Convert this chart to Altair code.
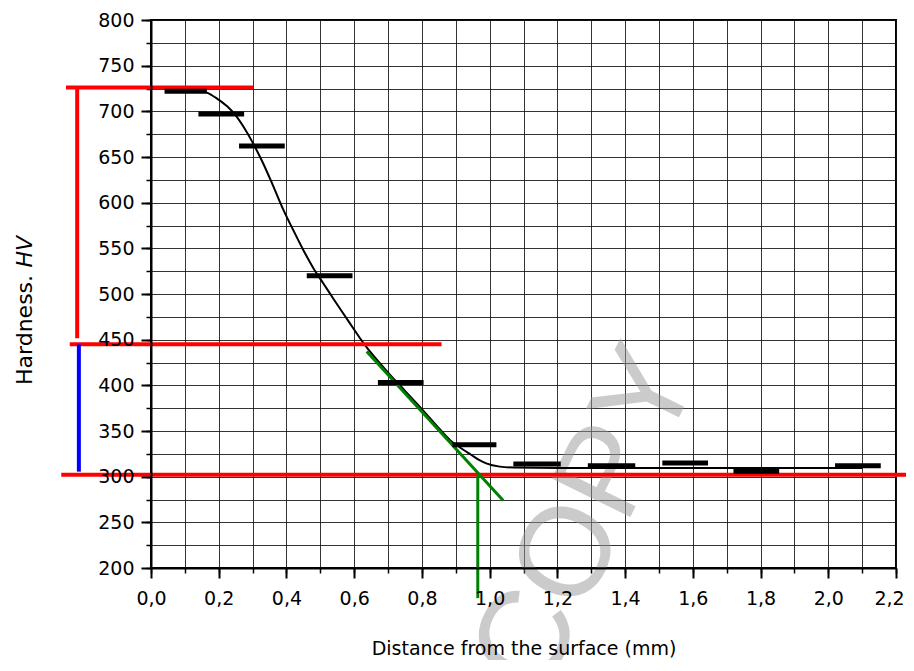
import altair as alt
import pandas as pd

# ---- data ----
bar_x_start = [0.04, 0.14, 0.26, 0.46, 0.67, 0.89, 1.07, 1.29, 1.51, 1.72, 2.02]
bar_x_end = [0.165, 0.275, 0.395, 0.595, 0.805, 1.02, 1.21, 1.43, 1.645, 1.855, 2.155]
bar_hv = [722, 697, 662, 520, 403, 335, 314, 312, 315, 306, 312]

fit_x = [0.13, 0.165, 0.195, 0.225, 0.25, 0.275, 0.30, 0.33, 0.36, 0.39, 0.42,
         0.45, 0.48, 0.51, 0.54, 0.58, 0.632, 0.70, 0.75, 0.80, 0.85, 0.883,
         0.92, 0.945, 0.97, 0.99, 1.03, 1.07, 1.2, 2.1]
fit_hv = [723, 720.5, 714, 705.5, 695.5, 682, 666, 644, 619, 593, 570,
          548, 528, 511, 494, 472, 444, 414, 394, 374, 353, 340,
          330, 324, 318, 314.5, 311, 310, 309.5, 309.5]

# horizontal red guide lines: start x, end x, hardness
red_h_x1 = [-0.251, -0.24, -0.265]
red_h_x2 = [0.302, 0.858, 2.23]
red_h_y = [726, 445, 302]
# vertical red / blue brackets: x, y from, y to
red_v = [-0.218, 726, 451.5]
blue_v = [-0.213, 445, 305.5]
# green tangent and drop line
green_x1 = [0.637, 0.965]
green_y1 = [437, 302]
green_x2 = [1.04, 0.965]
green_y2 = [274, 167]

x_major = [0.0, 0.2, 0.4, 0.6, 0.8, 1.0, 1.2, 1.4, 1.6, 1.8, 2.0, 2.2]
x_minor = [0.0, 0.1, 0.2, 0.3, 0.4, 0.5, 0.6, 0.7, 0.8, 0.9, 1.0, 1.1, 1.2,
           1.3, 1.4, 1.5, 1.6, 1.7, 1.8, 1.9, 2.0, 2.1, 2.2]
y_major = list(range(200, 801, 50))
y_minor = list(range(200, 801, 25))

FONT = "DejaVu Sans"
xs = alt.Scale(domain=[0, 2.2], nice=False, zero=False)
ys = alt.Scale(domain=[200, 800], nice=False, zero=False)

bars_df = pd.DataFrame({"x1": bar_x_start, "x2": bar_x_end, "hv": bar_hv})
fit_df = pd.DataFrame({"x": fit_x, "hv": fit_hv})
red_h_df = pd.DataFrame({"x1": red_h_x1, "x2": red_h_x2, "y": red_h_y})
red_v_df = pd.DataFrame({"x": [red_v[0]], "y1": [red_v[1]], "y2": [red_v[2]]})
blue_v_df = pd.DataFrame({"x": [blue_v[0]], "y1": [blue_v[1]], "y2": [blue_v[2]]})
green_df = pd.DataFrame({"x1": green_x1, "y1": green_y1, "x2": green_x2, "y2": green_y2})
one = pd.DataFrame({"k": [0]})

# watermark
watermark = alt.Chart(one).mark_text(
    text="COPY", angle=296, fontSize=127, font="Liberation Sans",
    color="#999999", opacity=0.5, align="center", baseline="middle"
).encode(x=alt.value(436), y=alt.value(499))

# fitted curve carrying the minor axes + grid
minor_x_axis = alt.Axis(values=x_minor, orient="bottom", labels=False, domain=False,
                        ticks=True, tickSize=5, tickWidth=1.5, tickColor="black",
                        grid=True, gridColor="#111111", gridWidth=1, gridOpacity=0.85,
                        title="", zindex=0)
minor_y_axis = alt.Axis(values=y_minor, orient="left", labels=False, domain=False,
                        ticks=True, tickSize=5, tickWidth=1.5, tickColor="black",
                        grid=True, gridColor="#111111", gridWidth=1, gridOpacity=0.85,
                        title="", zindex=0)
curve = alt.Chart(fit_df).mark_line(color="black", strokeWidth=2, interpolate="monotone").encode(
    x=alt.X("x:Q", scale=xs, axis=minor_x_axis),
    y=alt.Y("hv:Q", scale=ys, axis=minor_y_axis),
)

# measured bars carrying the major axes
major_x_axis = alt.Axis(values=x_major, orient="bottom", labelExpr="replace(format(datum.value, '.1f'), '.', ',')",
                        labelFont=FONT, labelFontSize=19, labelColor="black", labelPadding=11,
                        labelFlush=False,
                        labelOffset=alt.condition("datum.value > 2.15", alt.value(-7), alt.value(0)),
                        tickSize=10, tickWidth=2, tickColor="black",
                        domain=True, domainColor="black", domainWidth=2, grid=False,
                        title="Distance from the surface (mm)", titleFont=FONT, titleFontSize=19,
                        titleFontWeight="normal", titleColor="black", titlePadding=31, zindex=1)
major_y_axis = alt.Axis(values=y_major, orient="left", labelFont=FONT, labelFontSize=19,
                        labelColor="black", labelPadding=7, tickSize=10, tickWidth=2,
                        tickColor="black", domain=True, domainColor="black", domainWidth=2,
                        grid=False, title="", zindex=1)
bars = alt.Chart(bars_df).mark_rule(color="black", strokeWidth=5, strokeCap="butt").encode(
    x=alt.X("x1:Q", scale=xs, axis=major_x_axis),
    x2="x2:Q",
    y=alt.Y("hv:Q", scale=ys, axis=major_y_axis),
)

red_h = alt.Chart(red_h_df).mark_rule(color="#ff0000", strokeWidth=4, strokeCap="butt").encode(
    x=alt.X("x1:Q", scale=xs, axis=None), x2="x2:Q",
    y=alt.Y("y:Q", scale=ys, axis=None),
)
red_vl = alt.Chart(red_v_df).mark_rule(color="#ff0000", strokeWidth=4, strokeCap="butt").encode(
    x=alt.X("x:Q", scale=xs, axis=None),
    y=alt.Y("y1:Q", scale=ys, axis=None), y2="y2:Q",
)
blue_vl = alt.Chart(blue_v_df).mark_rule(color="#0000ff", strokeWidth=4, strokeCap="butt").encode(
    x=alt.X("x:Q", scale=xs, axis=None),
    y=alt.Y("y1:Q", scale=ys, axis=None), y2="y2:Q",
)
green = alt.Chart(green_df).mark_rule(color="#008000", strokeWidth=3, strokeCap="butt").encode(
    x=alt.X("x1:Q", scale=xs, axis=None), x2="x2:Q",
    y=alt.Y("y1:Q", scale=ys, axis=None), y2="y2:Q",
)

# y title with italic HV
ytitle1 = alt.Chart(one).mark_text(
    text="Hardness.", angle=270, font=FONT, fontSize=22, color="black",
    align="left", baseline="alphabetic"
).encode(x=alt.value(-119), y=alt.value(365))
ytitle2 = alt.Chart(one).mark_text(
    text="HV", angle=270, font=FONT, fontSize=22, fontStyle="italic", color="black",
    align="left", baseline="alphabetic"
).encode(x=alt.value(-119), y=alt.value(247.5))

chart = alt.layer(
    watermark, curve, red_h, red_vl, blue_vl, green, bars, ytitle1, ytitle2
).resolve_axis(x="independent", y="independent").properties(
    width=745, height=548,
    autosize=alt.AutoSizeParams(type="none"),
    padding={"left": 143, "top": 12, "right": 10, "bottom": 92},
).configure_view(stroke="black", strokeWidth=2)

chart.save("out.html", embed_options={"renderer": "svg", "actions": False})
